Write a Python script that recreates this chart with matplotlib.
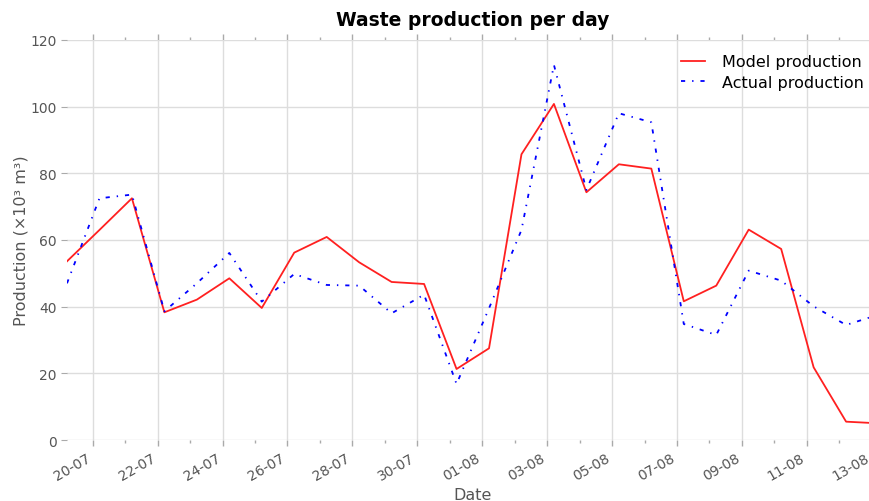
import numpy as np
import pandas as pd
import matplotlib
matplotlib.use("Agg")
import matplotlib.pyplot as plt
import matplotlib.dates as mdates

# daily readings, 19-07 .. 13-08 (taken around 05:00)
dates = pd.date_range("2017-07-19 05:00", "2017-08-13 05:00", freq="D")
model = [53.6, 63.0, 72.5, 38.3, 42.1, 48.5, 39.6, 56.2, 60.9, 53.3, 47.4, 46.8, 21.3,
         27.5, 85.7, 100.8, 74.3, 82.7, 81.4, 41.6, 46.3, 63.1, 57.3, 21.8, 5.5, 5.0]
actual = [47.0, 72.5, 73.6, 38.6, 47.0, 56.1, 41.5, 49.8, 46.5, 46.3, 38.0, 43.6, 16.8,
          39.5, 63.0, 112.5, 75.0, 98.0, 95.3, 34.8, 31.5, 50.8, 47.8, 40.1, 34.5, 37.6]
major_ticks = pd.date_range("2017-07-20", "2017-08-13", freq="2D")

grey = "#555555"
plt.rcParams["lines.scale_dashes"] = False

fig = plt.figure(figsize=(8.69, 5.02), dpi=100)
# axes runs a little past the right edge of the picture, as in the original
ax = fig.add_axes([0.0771, 0.1215, 0.9339, 0.797])

ax.plot(dates, model, color="#ff2020", lw=1.3, label="Model production")
ax.plot(dates, actual, color="blue", lw=1.3, ls=(0, (3, 5, 1, 5)),
        label="Actual production")

ax.set_xlim(dates[0], dates[-1])
ax.set_ylim(0, 120)
ax.set_xticks(major_ticks)
ax.xaxis.set_minor_locator(mdates.DayLocator())
ax.xaxis.set_major_formatter(mdates.DateFormatter("%d-%m"))
plt.setp(ax.get_xticklabels(), rotation=30, ha="right")

for s in ax.spines.values():
    s.set_visible(False)
ax.set_axisbelow(True)
ax.grid(True, which="major", color="#dddddd", lw=1)
ax.tick_params(axis="x", which="both", top=True, bottom=True, direction="out",
               colors="#aaaaaa", labelcolor=grey, labelsize=10)
ax.tick_params(axis="x", which="major", length=4, width=1)
ax.tick_params(axis="x", which="minor", length=2, width=1)
ax.tick_params(axis="y", left=True, right=False, direction="out", length=4,
               colors="#aaaaaa", labelcolor=grey, labelsize=10)

ax.set_title("Waste production per day", fontsize=13.5, fontweight="bold", pad=11)
ax.set_xlabel("Date", fontsize=11.5, color=grey, labelpad=3)
ax.set_ylabel("Production (×10³ m³)", fontsize=11.5, color=grey, labelpad=1.5)
ax.legend(loc="upper right", frameon=False, fontsize=11.5, handlelength=1.5,
          handletextpad=1.1, labelspacing=0.35)

plt.savefig("out.png", dpi=100)
